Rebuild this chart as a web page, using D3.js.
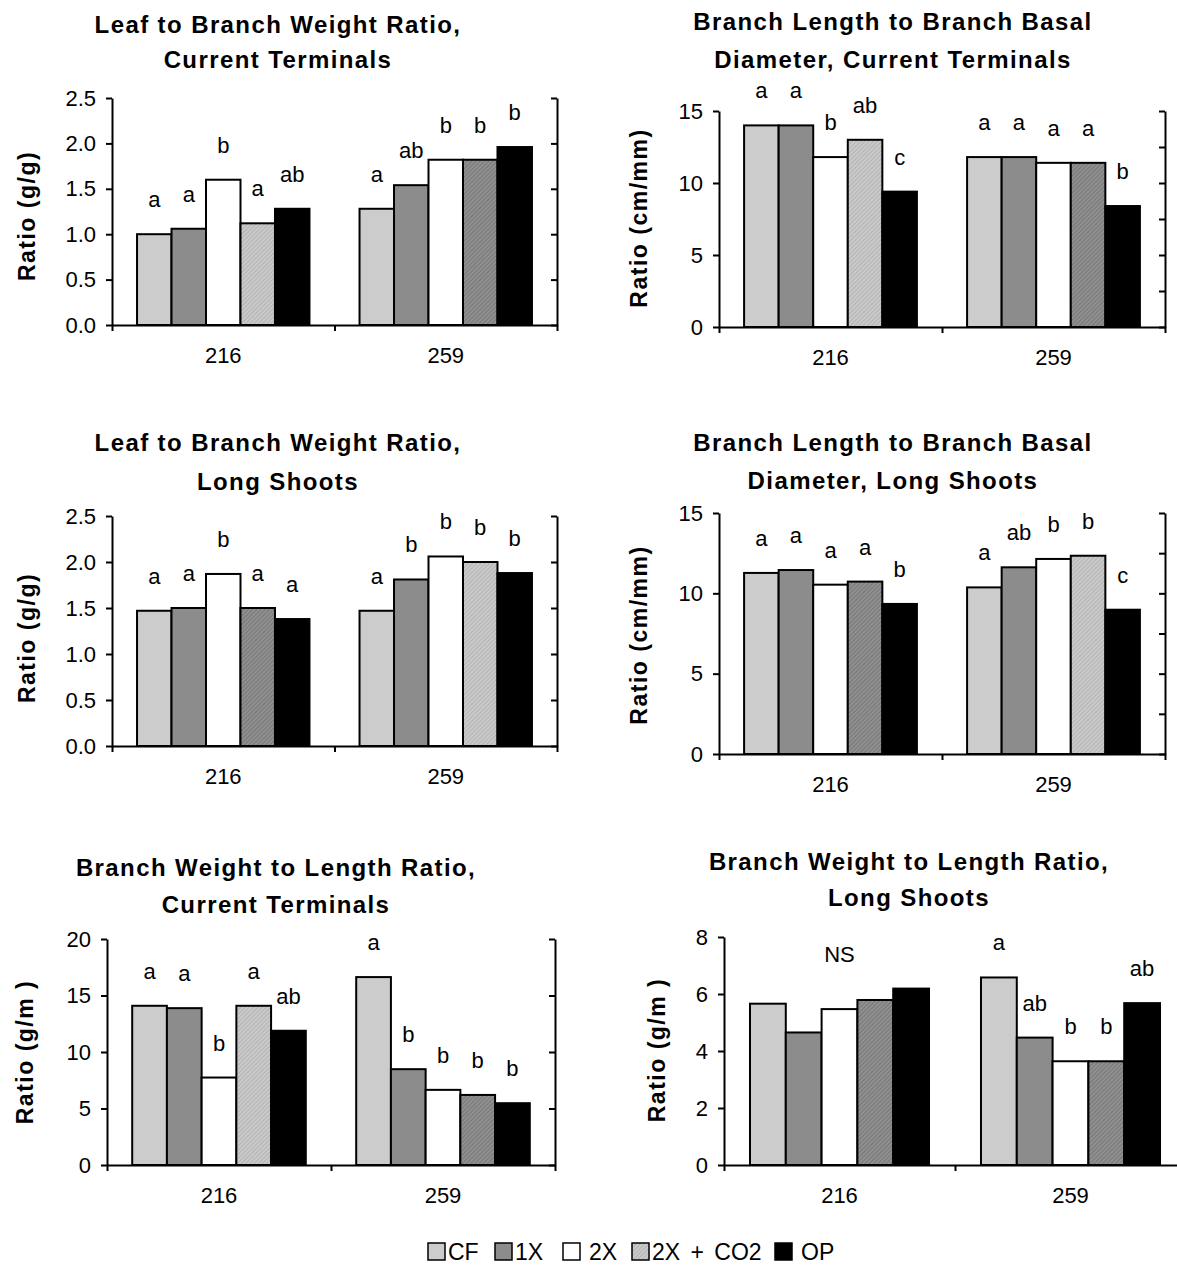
<!DOCTYPE html>
<html>
<head>
<meta charset="utf-8">
<script src="https://d3js.org/d3.v7.min.js"></script>
<style>
  body { margin: 0; background: #fff; }
  text { font-family: "Liberation Sans", Arial, sans-serif; fill: #000; }
</style>
</head>
<body>
<svg id="chart" width="1177" height="1266"></svg>
<script>
// --- data -------------------------------------------------------------
const days = ["216", "259"];
const treatments = ["CF", "1X", "2X", "2X + CO2", "OP"];

// each array: [day 216, day 259], treatments in the order above
const leafBranchCT = [[1.00, 1.06, 1.60, 1.12, 1.28], [1.28, 1.54, 1.82, 1.82, 1.96]];
const leafBranchCTLetters = [["a", "a", "b", "a", "ab"], ["a", "ab", "b", "b", "b"]];

const lengthDiamCT = [[14.0, 14.0, 11.8, 13.0, 9.4], [11.8, 11.8, 11.4, 11.4, 8.4]];
const lengthDiamCTLetters = [["a", "a", "b", "ab", "c"], ["a", "a", "a", "a", "b"]];

const leafBranchLS = [[1.47, 1.50, 1.87, 1.50, 1.38], [1.47, 1.81, 2.06, 2.00, 1.88]];
const leafBranchLSLetters = [["a", "a", "b", "a", "a"], ["a", "b", "b", "b", "b"]];

const lengthDiamLS = [[11.27, 11.45, 10.54, 10.73, 9.34], [10.37, 11.62, 12.14, 12.34, 8.98]];
const lengthDiamLSLetters = [["a", "a", "a", "a", "b"], ["a", "ab", "b", "b", "c"]];

const weightLengthCT = [[14.09, 13.88, 7.74, 14.09, 11.88], [16.63, 8.48, 6.65, 6.20, 5.47]];
const weightLengthCTLetters = [["a", "a", "b", "a", "ab"], ["a", "b", "b", "b", "b"]];

const weightLengthLS = [[5.66, 4.65, 5.47, 5.79, 6.19], [6.58, 4.47, 3.64, 3.64, 5.68]];
const weightLengthLSLetters = [[null, null, null, null, null], ["a", "ab", "b", "b", "ab"]];
const weightLengthLSNotes = ["NS", null];

// --- layout -----------------------------------------------------------
const panels = [
  { values: leafBranchCT, letters: leafBranchCTLetters,
    title: ["Leaf to Branch Weight Ratio,", "Current Terminals"], ylabel: "Ratio (g/g)",
    ymax: 2.5, step: 0.5, rstep: 0.5, fmt: ".1f",
    box: { l: 112, r: 557, t: 98, b: 325 }, titleX: 278, titleY: [33, 68], ylab: [27, 216],
    co2: ["hatchLight", "hatchDark"] },
  { values: lengthDiamCT, letters: lengthDiamCTLetters,
    title: ["Branch Length to Branch Basal", "Diameter, Current Terminals"], ylabel: "Ratio (cm/mm)",
    ymax: 15, step: 5, rstep: 2.5, fmt: "d",
    box: { l: 719, r: 1165, t: 111, b: 327 }, titleX: 893, titleY: [30, 68], ylab: [639, 218],
    co2: ["hatchLight", "hatchDark"] },
  { values: leafBranchLS, letters: leafBranchLSLetters,
    title: ["Leaf to Branch Weight Ratio,", "Long Shoots"], ylabel: "Ratio (g/g)",
    ymax: 2.5, step: 0.5, rstep: 0.5, fmt: ".1f",
    box: { l: 112, r: 557, t: 516, b: 746 }, titleX: 278, titleY: [451, 490], ylab: [27, 638],
    co2: ["hatchDark", "hatchLight"] },
  { values: lengthDiamLS, letters: lengthDiamLSLetters,
    title: ["Branch Length to Branch Basal", "Diameter, Long Shoots"], ylabel: "Ratio (cm/mm)",
    ymax: 15, step: 5, rstep: 2.5, fmt: "d",
    box: { l: 719, r: 1165, t: 513, b: 754 }, titleX: 893, titleY: [451, 489], ylab: [639, 635],
    co2: ["hatchDark", "hatchLight"] },
  { values: weightLengthCT, letters: weightLengthCTLetters,
    title: ["Branch Weight to Length Ratio,", "Current Terminals"], ylabel: "Ratio (g/m )",
    ymax: 20, step: 5, rstep: 5, fmt: "d",
    box: { l: 107, r: 555, t: 939, b: 1165 }, titleX: 276, titleY: [876, 913], ylab: [25, 1052],
    co2: ["hatchLight", "hatchDark"] },
  { values: weightLengthLS, letters: weightLengthLSLetters, notes: weightLengthLSNotes,
    title: ["Branch Weight to Length Ratio,", "Long Shoots"], ylabel: "Ratio (g/m )",
    ymax: 8, step: 2, rstep: 2, fmt: "d",
    box: { l: 724, r: 1186, t: 937, b: 1165 }, titleX: 909, titleY: [870, 906], ylab: [657, 1050],
    co2: ["hatchDark", "hatchDark"] }
];

const baseFill = ["#cccccc", "#8c8c8c", "#ffffff", null, "#000000"];

const svg = d3.select("#chart");

// hatched fills for the 2X + CO2 bars
const defs = svg.append("defs");
[["hatchLight", "#cacaca", "#9c9c9c"], ["hatchDark", "#909090", "#5f5f5f"]].forEach(([id, bg, fg]) => {
  const p = defs.append("pattern")
    .attr("id", id)
    .attr("patternUnits", "userSpaceOnUse")
    .attr("width", 3).attr("height", 3)
    .attr("patternTransform", "rotate(45)");
  p.append("rect").attr("width", 3).attr("height", 3).attr("fill", bg);
  p.append("line").attr("x1", 0).attr("y1", 0).attr("x2", 0).attr("y2", 3)
    .attr("stroke", fg).attr("stroke-width", 1);
});

panels.forEach(drawPanel);

function drawPanel(p) {
  const { l, r, t, b } = p.box;
  const g = svg.append("g");

  const x0 = d3.scaleBand().domain(days).range([l, r]).paddingInner(0.225).paddingOuter(0.1125);
  const x1 = d3.scaleBand().domain(treatments).range([0, x0.bandwidth()]);
  const y = d3.scaleLinear().domain([0, p.ymax]).range([b, t]);

  // bars
  days.forEach((day, di) => {
    g.selectAll(null)
      .data(p.values[di])
      .join("rect")
      .attr("x", (d, i) => x0(day) + x1(treatments[i]))
      .attr("y", d => y(d))
      .attr("width", x1.bandwidth())
      .attr("height", d => b - y(d))
      .attr("fill", (d, i) => i == 3 ? "url(#" + p.co2[di] + ")" : baseFill[i])
      .attr("stroke", "#000")
      .attr("stroke-width", 2);

    g.selectAll(null)
      .data(p.letters[di])
      .join("text")
      .filter(d => d)
      .attr("x", (d, i) => x0(day) + x1(treatments[i]) + x1.bandwidth() / 2)
      .attr("y", (d, i) => y(p.values[di][i]) - 27)
      .attr("text-anchor", "middle")
      .style("font-size", "22px")
      .text(d => d);

    if (p.notes && p.notes[di]) {
      g.append("text")
        .attr("x", x0(day) + x0.bandwidth() / 2)
        .attr("y", y(d3.max(p.values[di])) - 27)
        .attr("text-anchor", "middle")
        .style("font-size", "22px")
        .text(p.notes[di]);
    }
  });

  // left axis
  const left = g.append("g")
    .attr("transform", "translate(" + l + ",0)")
    .call(d3.axisLeft(y)
      .tickValues(d3.range(0, p.ymax + 1e-9, p.step))
      .tickFormat(d3.format(p.fmt))
      .tickSize(6).tickSizeOuter(0).tickPadding(10));
  left.selectAll("text").style("font-size", "22px").style("font-family", "Liberation Sans, Arial, sans-serif");

  // right axis, ticks pointing in
  g.append("g")
    .attr("transform", "translate(" + r + ",0)")
    .call(d3.axisRight(y)
      .tickValues(d3.range(0, p.ymax + 1e-9, p.rstep))
      .tickFormat("")
      .tickSize(-6).tickSizeOuter(0));

  // bottom axis: ticks at both ends and between the days
  const xt = d3.scaleLinear().domain([0, 2]).range([l, r]);
  g.append("g")
    .attr("transform", "translate(0," + b + ")")
    .call(d3.axisBottom(xt).tickValues([0, 1, 2]).tickFormat("").tickSize(6).tickSizeOuter(0));

  g.selectAll(".domain, .tick line").attr("stroke", "#000").attr("stroke-width", 2);

  // day labels
  g.selectAll(null)
    .data(days)
    .join("text")
    .attr("x", d => x0(d) + x0.bandwidth() / 2)
    .attr("y", b + 38)
    .attr("text-anchor", "middle")
    .style("font-size", "22px")
    .text(d => d);

  // title
  p.title.forEach((line, i) => {
    g.append("text")
      .attr("x", p.titleX)
      .attr("y", p.titleY[i])
      .attr("text-anchor", "middle")
      .style("font-size", "24px")
      .style("font-weight", "bold")
      .style("letter-spacing", "1.4px")
      .text(line);
  });

  // y label
  g.append("text")
    .attr("transform", "translate(" + (p.ylab[0] + 8) + "," + p.ylab[1] + ") rotate(-90)")
    .attr("text-anchor", "middle")
    .style("font-size", "23px")
    .style("font-weight", "bold")
    .style("letter-spacing", "1.5px")
    .text(p.ylabel);
}

// legend
const legendX = [428, 495, 563, 632, 775];
const legendFill = ["#cccccc", "#8c8c8c", "#ffffff", "url(#hatchLight)", "#000000"];
const legend = svg.append("g").attr("transform", "translate(0,1243)");
treatments.forEach((name, i) => {
  legend.append("rect")
    .attr("x", legendX[i]).attr("y", 0)
    .attr("width", 17).attr("height", 17)
    .attr("fill", legendFill[i])
    .attr("stroke", "#000").attr("stroke-width", 1.5);
  legend.append("text")
    .attr("x", legendX[i] + (name == "2X" || name == "OP" ? 26 : 20))
    .attr("y", 17)
    .style("font-size", "23px")
    .style("word-spacing", "4px")
    .text(name);
});
</script>
</body>
</html>
